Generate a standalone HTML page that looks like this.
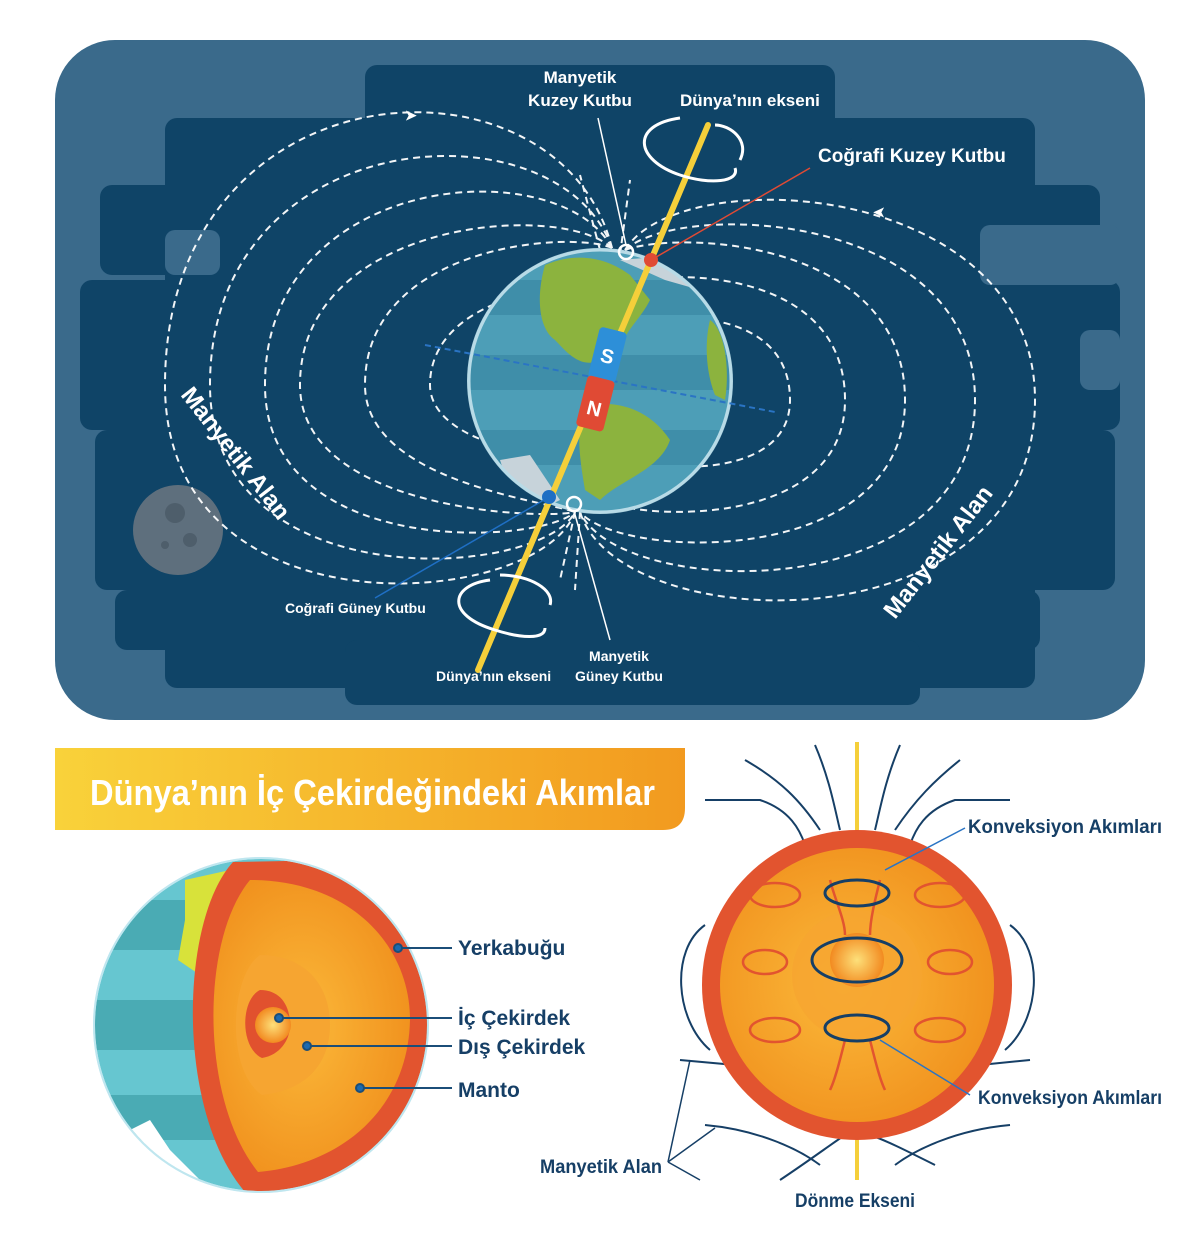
<!DOCTYPE html>
<html><head><meta charset="utf-8"><style>
html,body{margin:0;padding:0;background:#fff}
svg{display:block}
text{font-family:"Liberation Sans Narrow","Liberation Sans",sans-serif;font-weight:bold}
</style></head><body>
<svg width="1200" height="1250" viewBox="0 0 1200 1250" xmlns="http://www.w3.org/2000/svg">
<defs>
<linearGradient id="ban" x1="0" x2="1"><stop offset="0" stop-color="#f9d23a"/><stop offset="1" stop-color="#f29a1f"/></linearGradient>
<radialGradient id="org" cx="0.45" cy="0.5" r="0.6"><stop offset="0" stop-color="#fbb93a"/><stop offset="1" stop-color="#f08f1c"/></radialGradient>
<radialGradient id="core" cx="0.5" cy="0.5" r="0.5"><stop offset="0" stop-color="#fde07a"/><stop offset="1" stop-color="#f28a20"/></radialGradient>
<clipPath id="gclip"><circle cx="600" cy="381" r="130"/></clipPath>
<clipPath id="lclip"><circle cx="261" cy="1025" r="166"/></clipPath>
</defs>

<rect x="55" y="40" width="1090" height="680" rx="60" fill="#3a6a8b"/>
<g fill="#0f4467">
<rect x="365" y="65" width="470" height="640" rx="12"/>
<rect x="165" y="118" width="870" height="570" rx="12"/>
<rect x="100" y="185" width="1000" height="90" rx="12"/>
<rect x="80" y="280" width="1040" height="150" rx="12"/>
<rect x="95" y="430" width="1020" height="160" rx="12"/>
<rect x="115" y="590" width="925" height="60" rx="12"/>
<rect x="345" y="640" width="575" height="65" rx="12"/>
</g>
<rect x="165" y="230" width="55" height="45" rx="10" fill="#3a6a8b"/>
<rect x="980" y="225" width="140" height="60" rx="10" fill="#3a6a8b"/>
<rect x="1080" y="330" width="40" height="60" rx="10" fill="#3a6a8b"/>
<circle cx="178" cy="530" r="45" fill="#5e6f7d"/>
<circle cx="175" cy="513" r="10" fill="#4e5e6b"/><circle cx="190" cy="540" r="7" fill="#4e5e6b"/><circle cx="165" cy="545" r="4" fill="#4e5e6b"/>

<g fill="none" stroke="#fff" stroke-width="2" stroke-dasharray="7 5" opacity="0.95">
<path d="M612 248 C560 40 165 60 165 385 C165 640 540 610 575 512"/>
<path d="M612 248 C560 100 210 120 210 385 C210 600 540 580 575 512"/>
<path d="M612 248 C560 150 265 170 265 385 C265 560 540 545 575 512"/>
<path d="M612 248 C560 200 300 220 300 385 C300 510 540 520 575 512"/>
<path d="M612 248 C570 230 365 245 365 385 C365 480 540 500 575 512"/>
<path d="M600 290 C560 280 430 300 430 385 C430 440 540 460 560 450"/>
<path d="M625 250 C680 160 1035 180 1035 400 C1035 650 620 640 580 512"/>
<path d="M625 250 C680 200 975 210 975 400 C975 610 620 600 580 512"/>
<path d="M625 250 C680 230 905 240 905 400 C905 570 620 560 580 512"/>
<path d="M640 280 C700 270 845 280 845 400 C845 530 640 520 600 500"/>
<path d="M640 320 C720 310 790 330 790 400 C790 480 660 470 640 460"/>
<path d="M600 250 L580 175 M620 255 L630 180 M575 512 L560 580 M580 512 L575 590"/>
</g>
<g fill="#fff" font-size="14">
<text x="405" y="120">➤</text><text x="875" y="218" transform="rotate(180 880 213)">➤</text>
</g>

<circle cx="600" cy="381" r="133" fill="#a9cfdc"/>
<g clip-path="url(#gclip)">
<rect x="460" y="240" width="280" height="290" fill="#4d9eb7"/>
<g fill="#3f8ea9"><rect x="460" y="280" width="280" height="35"/><rect x="460" y="355" width="280" height="35"/><rect x="460" y="430" width="280" height="35"/></g>
<path d="M545 265 C580 250 610 260 630 275 L650 300 C640 320 625 330 620 350 L600 360 C580 370 565 350 555 340 C540 330 535 300 545 265Z" fill="#8cb33e"/>
<path d="M585 405 C620 400 650 410 670 440 C660 470 620 480 600 500 L585 490 C580 460 575 430 585 405Z" fill="#8cb33e"/>
<path d="M710 320 C725 330 730 370 725 400 L715 395 C705 370 705 340 710 320Z" fill="#8cb33e"/>
<path d="M620 260 L680 255 L700 290 L665 280Z" fill="#c7d3da"/>
<path d="M500 460 L530 455 L560 500 L520 520Z" fill="#c7d3da"/>
</g>
<circle cx="600" cy="381" r="131" fill="none" stroke="#b8dbe7" stroke-width="3"/>
<line x1="425" y1="345" x2="775" y2="412" stroke="#2a74c4" stroke-width="2" stroke-dasharray="6 4"/>
<line x1="708" y1="125" x2="478" y2="670" stroke="#f5cf3a" stroke-width="6" stroke-linecap="round"/>
<g transform="rotate(14 600 381)">
<rect x="587" y="328" width="28" height="52" rx="4" fill="#2d8fd8"/>
<rect x="587" y="378" width="28" height="52" rx="4" fill="#e04a34"/>
<text x="601" y="362" font-size="20" fill="#fff" text-anchor="middle">S</text>
<text x="601" y="416" font-size="20" fill="#fff" text-anchor="middle">N</text>
</g>
<circle cx="626" cy="252" r="7" fill="none" stroke="#fff" stroke-width="2.5"/>
<circle cx="651" cy="260" r="7" fill="#e04a34"/>
<circle cx="549" cy="497" r="7" fill="#1f6fc4"/>
<circle cx="574" cy="504" r="7" fill="none" stroke="#fff" stroke-width="2.5"/>
<line x1="626" y1="245" x2="598" y2="118" stroke="#fff" stroke-width="1.5"/>
<line x1="651" y1="260" x2="810" y2="168" stroke="#e04a34" stroke-width="1.5"/>
<line x1="549" y1="497" x2="375" y2="598" stroke="#1f6fc4" stroke-width="1.5"/>
<line x1="574" y1="511" x2="610" y2="640" stroke="#fff" stroke-width="1.5"/>
<g fill="none" stroke="#fff" stroke-width="3">
<path d="M680 118 C630 125 635 160 680 175 C710 185 740 182 735 168"/>
<path d="M740 160 C750 140 730 125 715 125"/>
<path d="M490 580 C450 585 445 615 495 630 C520 638 545 640 545 628"/>
<path d="M500 575 C530 575 555 590 550 605"/>
</g>
<g fill="#fff" font-size="17">
<text x="580" y="83" text-anchor="middle">Manyetik</text>
<text x="580" y="106" text-anchor="middle">Kuzey Kutbu</text>
<text x="680" y="106">Dünya’nın ekseni</text>
<text x="818" y="162" font-size="19">Coğrafi Kuzey Kutbu</text>
<text x="285" y="613" font-size="14">Coğrafi Güney Kutbu</text>
<text x="436" y="681" font-size="14">Dünya’nın ekseni</text>
<text x="619" y="661" font-size="14" text-anchor="middle">Manyetik</text>
<text x="619" y="681" font-size="14" text-anchor="middle">Güney Kutbu</text>
<text x="0" y="0" font-size="24" transform="translate(180 395) rotate(52)">Manyetik Alan</text>
<text x="0" y="0" font-size="24" transform="translate(895 620) rotate(-52)">Manyetik Alan</text>
</g>

<path d="M55 748 H685 V808 Q685 830 663 830 H55 Z" fill="url(#ban)"/>
<text x="90" y="805" font-size="36" fill="#fff" textLength="565" lengthAdjust="spacingAndGlyphs">Dünya’nın İç Çekirdeğindeki Akımlar</text>

<circle cx="261" cy="1025" r="168" fill="#d6f0f6"/>
<g clip-path="url(#lclip)">
<rect x="90" y="855" width="350" height="340" fill="#66c6d0"/>
<g fill="#4aabb4"><rect x="90" y="900" width="350" height="50"/><rect x="90" y="1000" width="350" height="50"/><rect x="90" y="1095" width="350" height="45"/></g>
<path d="M185 880 L230 870 L215 930 L200 975 L178 960 L185 920Z" fill="#d8e23a"/>
<path d="M130 1130 L150 1120 L170 1150 L215 1195 L110 1195Z" fill="#ffffff"/>
<path d="M233 862 C180 920 175 1110 245 1192 L440 1192 L440 858Z" fill="#e2542f"/>
<path d="M250 880 C200 940 200 1100 258 1172 C340 1165 408 1110 410 1020 C410 945 350 880 250 880Z" fill="url(#org)"/>
<path d="M260 955 C230 975 225 1070 262 1095 C310 1090 330 1060 330 1025 C330 985 305 955 260 955Z" fill="#f6a531"/>
<path d="M260 990 C240 1000 240 1048 262 1058 C280 1055 290 1040 290 1025 C290 1005 280 990 260 990Z" fill="#e1512e"/>
<circle cx="273" cy="1025" r="18" fill="url(#core)"/>
</g>
<circle cx="261" cy="1025" r="167" fill="none" stroke="#bfe6ef" stroke-width="2"/>
<g stroke="#1b4e78" stroke-width="2" fill="#1b6ab0">
<line x1="398" y1="948" x2="452" y2="948"/><circle cx="398" cy="948" r="4"/>
<line x1="279" y1="1018" x2="452" y2="1018"/><circle cx="279" cy="1018" r="4"/>
<line x1="307" y1="1046" x2="452" y2="1046"/><circle cx="307" cy="1046" r="4"/>
<line x1="360" y1="1088" x2="452" y2="1088"/><circle cx="360" cy="1088" r="4"/>
</g>
<g fill="#163f66" font-size="21">
<text x="458" y="955">Yerkabuğu</text>
<text x="458" y="1025">İç Çekirdek</text>
<text x="458" y="1054">Dış Çekirdek</text>
<text x="458" y="1097">Manto</text>
</g>

<line x1="857" y1="742" x2="857" y2="1180" stroke="#f5cf3a" stroke-width="4"/>
<g fill="none" stroke="#163f66" stroke-width="2">
<path d="M705 800 L760 800 C790 810 800 830 805 845"/>
<path d="M745 760 C780 780 800 800 820 830"/>
<path d="M815 745 C830 780 835 810 840 830"/>
<path d="M900 745 C885 780 880 810 875 830"/>
<path d="M960 760 C935 780 915 800 895 830"/>
<path d="M1010 800 L955 800 C925 810 915 830 910 845"/>
<path d="M705 925 C670 950 675 1020 710 1050"/>
<path d="M1010 925 C1045 950 1040 1020 1005 1050"/>
<path d="M680 1060 L735 1065 C760 1080 790 1110 805 1130"/>
<path d="M705 1125 C760 1130 800 1150 820 1165"/>
<path d="M780 1180 C810 1160 830 1145 845 1135"/>
<path d="M935 1165 C905 1150 885 1140 870 1135"/>
<path d="M1010 1125 C955 1130 915 1150 895 1165"/>
<path d="M1030 1060 L980 1065 C955 1080 925 1110 910 1130"/>
</g>
<circle cx="857" cy="985" r="155" fill="#e2542f"/>
<circle cx="857" cy="985" r="137" fill="url(#org)"/>
<circle cx="857" cy="975" r="65" fill="#f6a531" opacity="0.8"/>
<circle cx="857" cy="960" r="27" fill="url(#core)"/>
<g fill="none" stroke="#e2542f" stroke-width="2.5">
<ellipse cx="775" cy="895" rx="25" ry="12"/><ellipse cx="940" cy="895" rx="25" ry="12"/>
<ellipse cx="765" cy="962" rx="22" ry="12"/><ellipse cx="950" cy="962" rx="22" ry="12"/>
<ellipse cx="775" cy="1030" rx="25" ry="12"/><ellipse cx="940" cy="1030" rx="25" ry="12"/>
<path d="M830 880 C835 900 845 920 845 935 M880 880 C875 900 870 920 870 935"/>
<path d="M845 1040 C840 1060 835 1080 830 1090 M870 1040 C875 1060 880 1080 885 1090"/>
</g>
<g fill="none" stroke="#163f66" stroke-width="3">
<ellipse cx="857" cy="893" rx="32" ry="13"/>
<ellipse cx="857" cy="960" rx="45" ry="22"/>
<ellipse cx="857" cy="1028" rx="32" ry="13"/>
</g>
<g stroke="#2a74c4" stroke-width="1.5"><line x1="885" y1="870" x2="965" y2="828"/><line x1="880" y1="1040" x2="970" y2="1095"/></g>
<g stroke="#163f66" stroke-width="1.5" fill="none"><path d="M668 1162 L690 1060 M668 1162 L715 1128 M668 1162 L700 1180"/></g>
<g fill="#163f66" font-size="19">
<text x="968" y="833" textLength="194" lengthAdjust="spacingAndGlyphs">Konveksiyon Akımları</text>
<text x="978" y="1104" textLength="184" lengthAdjust="spacingAndGlyphs">Konveksiyon Akımları</text>
<text x="540" y="1173" textLength="122" lengthAdjust="spacingAndGlyphs">Manyetik Alan</text>
<text x="795" y="1207" textLength="120" lengthAdjust="spacingAndGlyphs">Dönme Ekseni</text>
</g>
</svg>
</body></html>
